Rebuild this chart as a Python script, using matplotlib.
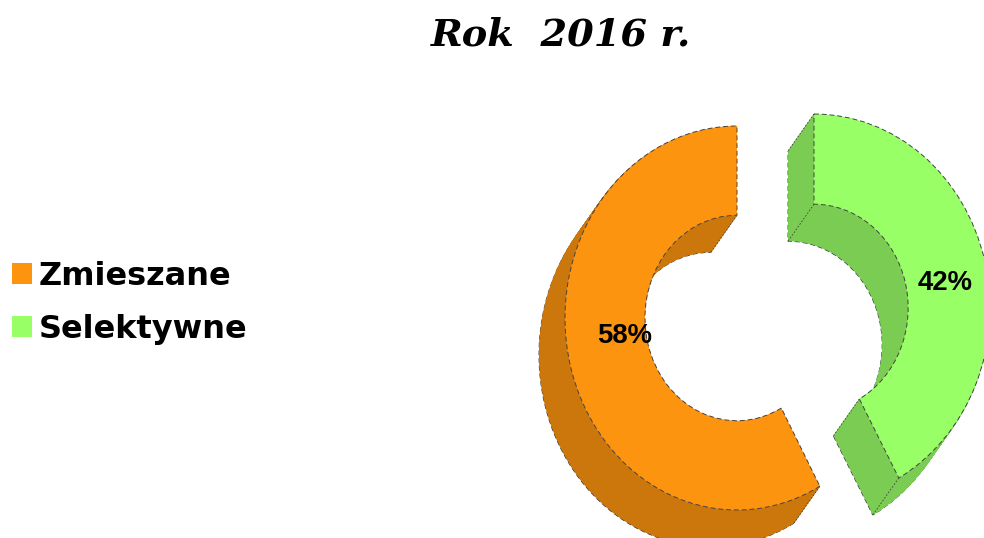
import matplotlib
matplotlib.use('Agg')
from matplotlib import pyplot as plt
from matplotlib.patches import Wedge, Patch
from matplotlib.transforms import Affine2D
import numpy as np

title = 'Rok  2016 r.'
categories = ['Zmieszane', 'Selektywne']
shares = [58, 42]
labels = ['58%', '42%']

face_colors = ['#FD9410', '#99FF66']
side_colors = ['#CC770C', '#7ACC52']
edge_color = '#444444'

# ellipse of each slice in pixels
centers = [(737, 318), (814, 308)]
radii = [(172, 192), (176, 194)]
label_pos = [(624.5, 336), (945, 283)]
hole = 0.535
depth = (-26, 37)
steps = 60

fig = plt.figure(figsize=(9.84, 5.38), dpi=100)
ax = fig.add_axes([0, 0, 1, 1])
ax.set_xlim(0, 984)
ax.set_ylim(538, 0)
ax.axis('off')

sweeps = [s / sum(shares) * 360 for s in shares]
# orange runs back from 12 o'clock, green runs forward from it
spans = [(-90 - sweeps[0], -90), (-90, -90 + sweeps[1])]


def slice_at(cx, cy, rx, ry, t1, t2, **kw):
    tr = Affine2D().scale(rx, ry).translate(cx, cy) + ax.transData
    return ax.add_patch(Wedge((0, 0), 1, t1, t2, width=1 - hole, transform=tr, **kw))


dash = dict(linewidth=0.7, linestyle=(0, (5, 3)))

for (cx, cy), (rx, ry), (t1, t2), face, side in zip(centers, radii, spans, face_colors, side_colors):
    # side wall: stacked copies, deepest one keeps the outline
    for i in range(steps, 0, -1):
        f = i / steps
        kw = dict(edgecolor=edge_color, **dash) if i == steps else dict(edgecolor=side, linewidth=0.5)
        slice_at(cx + depth[0] * f, cy + depth[1] * f, rx, ry, t1, t2, facecolor=side, zorder=1, **kw)

    # corner lines of the wall
    for t in (t1, t2):
        for r in (1, hole):
            x0 = cx + rx * r * np.cos(np.radians(t))
            y0 = cy + ry * r * np.sin(np.radians(t))
            ax.plot([x0, x0 + depth[0]], [y0, y0 + depth[1]], color=edge_color,
                    linewidth=0.6, linestyle=(0, (2, 2)), zorder=2)

    slice_at(cx, cy, rx, ry, t1, t2, facecolor=face, edgecolor=edge_color, zorder=3, **dash)

for (x, y), text in zip(label_pos, labels):
    ax.text(x, y, text, ha='center', va='center', fontsize=19.8, zorder=5,
            fontweight='bold', family='Liberation Sans', color='black')

fig.text(561 / 984, 1 - 35 / 538, title, ha='center', va='center', fontsize=27.5,
         family='DejaVu Serif', style='italic', fontweight='bold', color='black')

handles = [Patch(facecolor=c, edgecolor='none') for c in face_colors]
ax.legend(handles, categories, loc='center left', bbox_to_anchor=(0.0, 0.4375),
          frameon=False, handlelength=0.63, handleheight=0.63,
          handletextpad=0.2, labelspacing=0.69, borderaxespad=0, borderpad=0.38,
          prop=dict(family='DejaVu Sans', weight='bold', size=23))

fig.savefig('out.png', dpi=100)
